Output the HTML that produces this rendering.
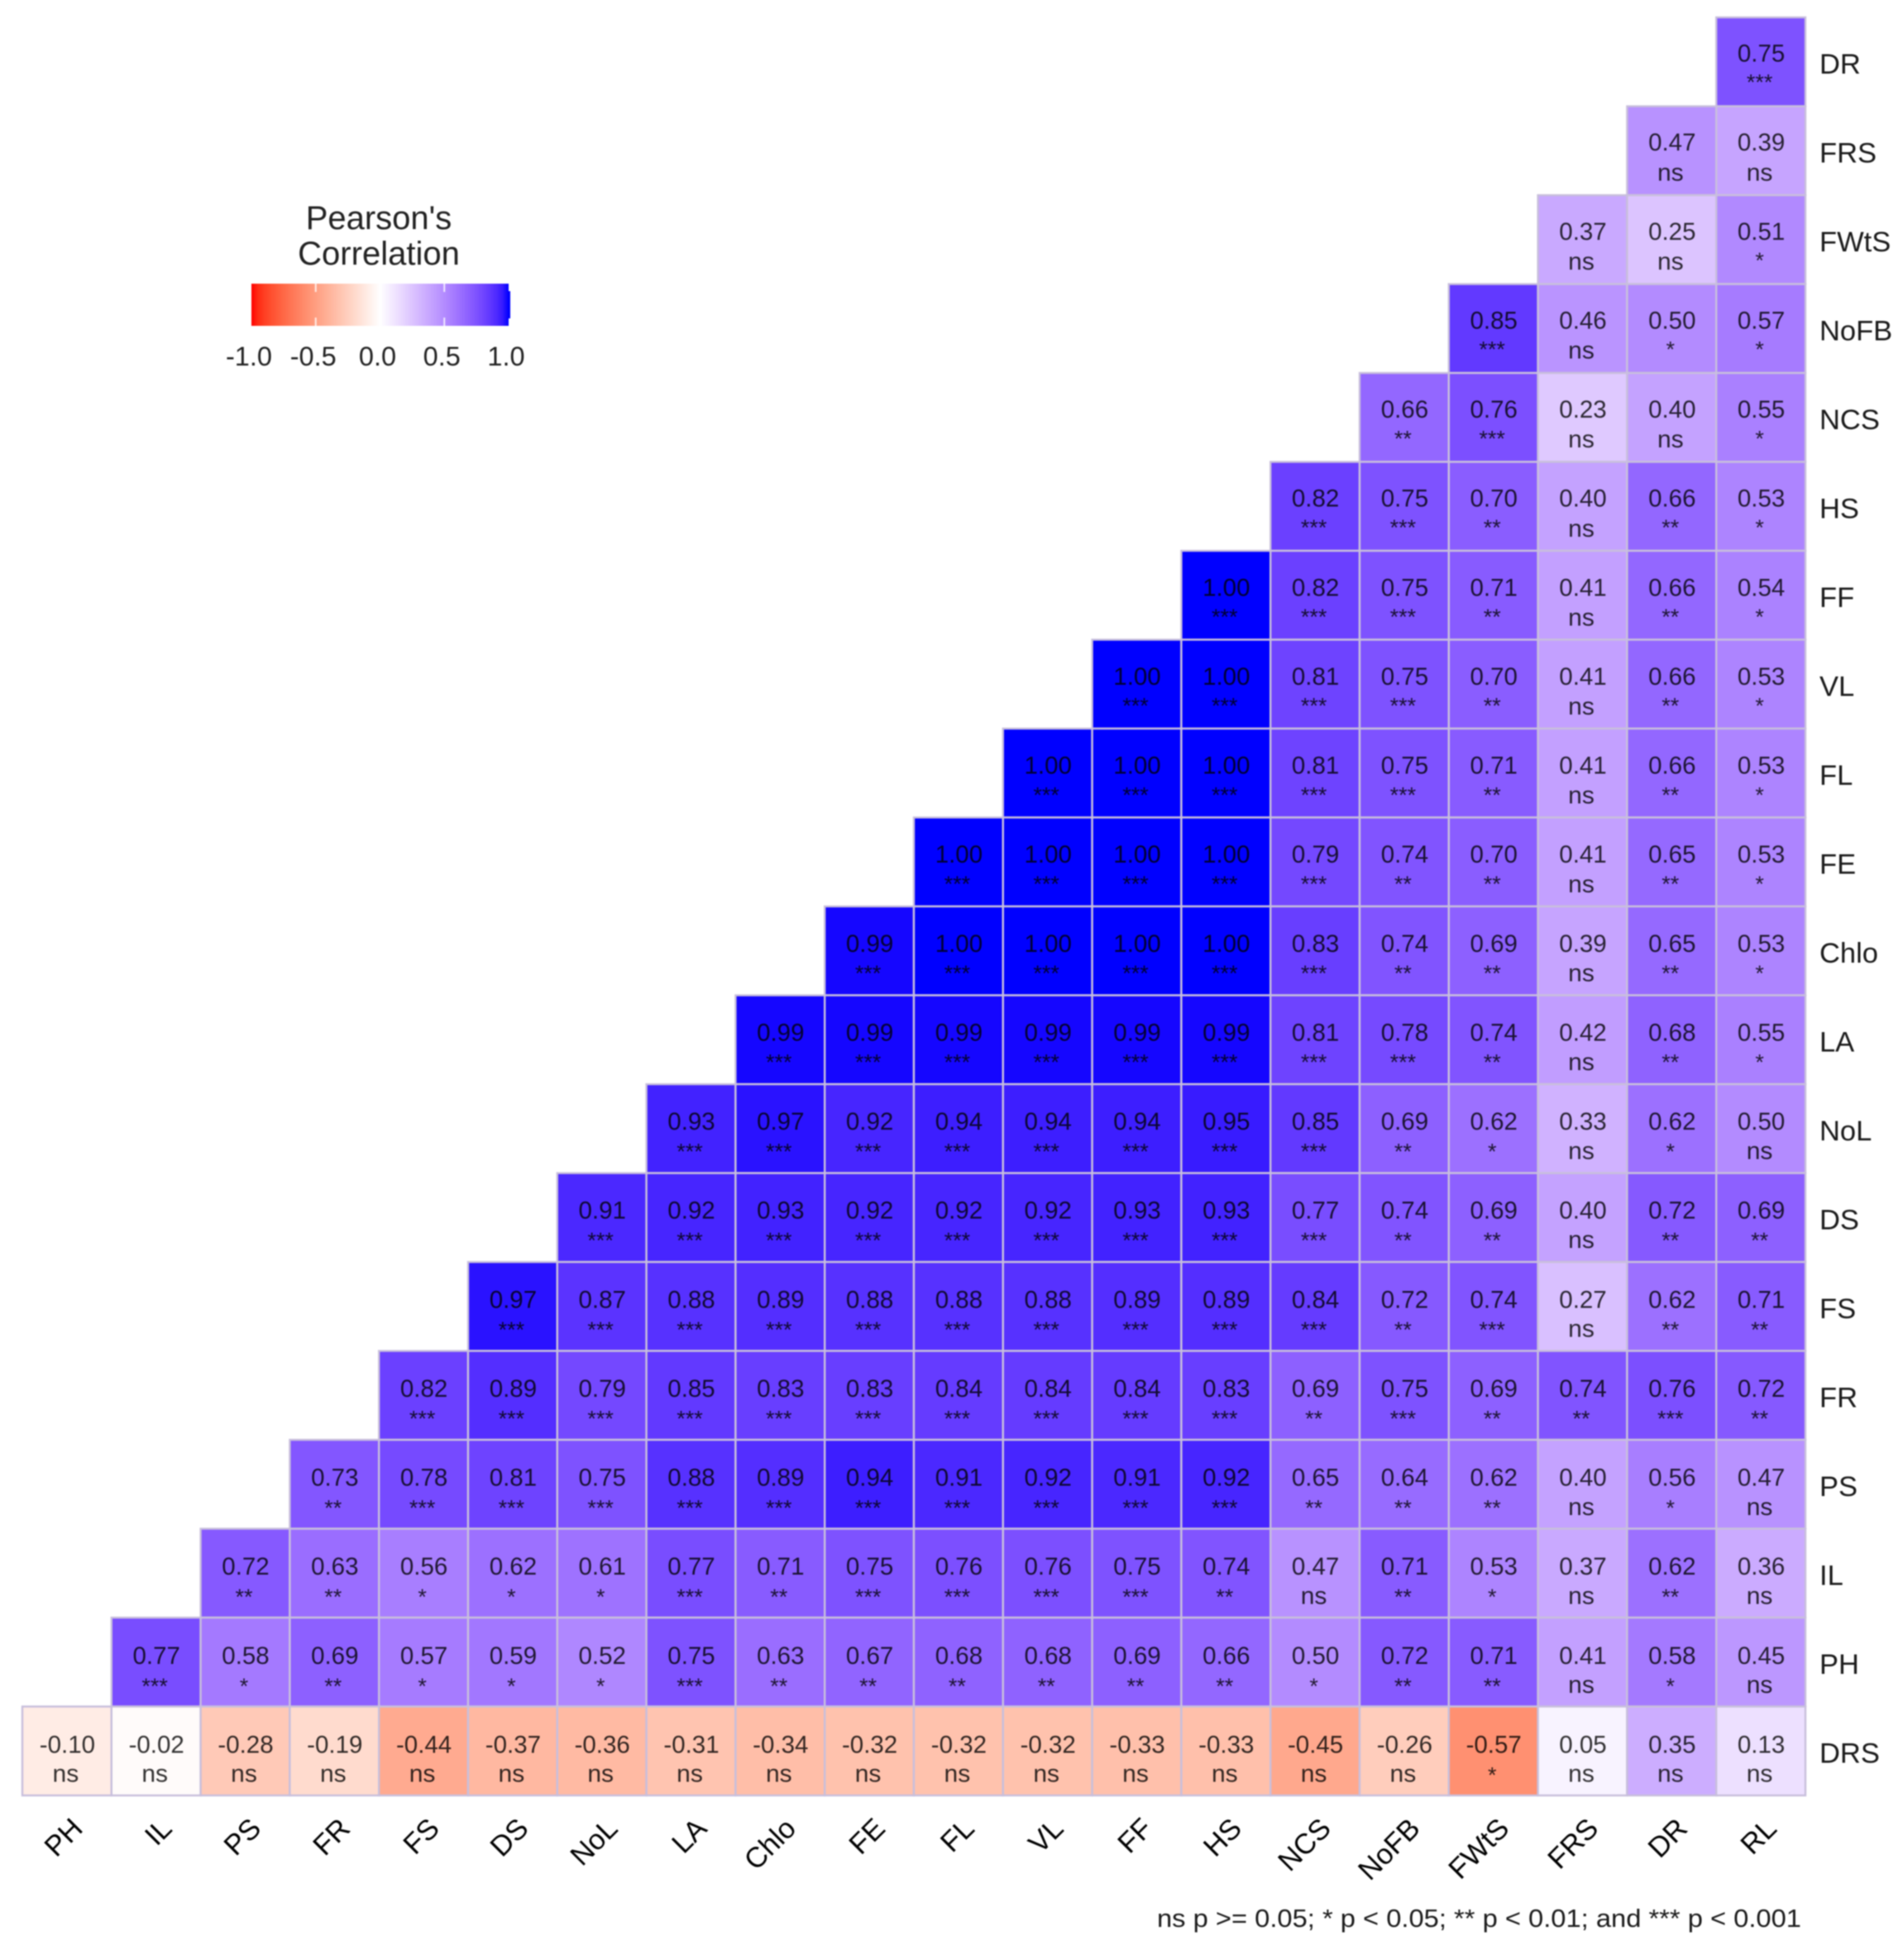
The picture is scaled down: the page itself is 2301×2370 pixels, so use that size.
<!DOCTYPE html>
<html>
<head>
<meta charset="utf-8">
<title>Pearson's Correlation Matrix</title>
<style>
html,body{margin:0;padding:0;background:#fff;width:2301px;height:2370px;overflow:hidden}
svg{display:block;filter:blur(0.8px)}
text{font-family:"Liberation Sans",sans-serif}
</style>
</head>
<body>
<svg id="chart" xmlns="http://www.w3.org/2000/svg" width="2301" height="2370" viewBox="0 0 2301 2370">
  <rect x="0" y="0" width="2301" height="2370" fill="#fff"/>
  <g id="cells"></g>
  <g id="ylabels"></g>
  <g id="xlabels"></g>
  <g>
    <text x="458" y="277" text-anchor="middle" font-size="40" fill="#222">Pearson's</text>
    <text x="458" y="320" text-anchor="middle" font-size="40" fill="#222">Correlation</text>
    <defs><linearGradient id="legendGrad" x1="0" x2="1" y1="0" y2="0"></linearGradient></defs>
    <rect x="612" y="352" width="5" height="33" fill="#0000ff"/>
    <rect id="legendBar" fill="url(#legendGrad)"/>
    <g id="legendTicks"></g>
  </g>
  <text x="1399" y="2330" font-size="31" fill="#1a1a1a" textLength="779" lengthAdjust="spacingAndGlyphs">ns p &gt;= 0.05; * p &lt; 0.05; ** p &lt; 0.01; and *** p &lt; 0.001</text>
</svg>
<script>
const columnLabels = ["PH","IL","PS","FR","FS","DS","NoL","LA","Chlo","FE","FL","VL","FF","HS","NCS","NoFB","FWtS","FRS","DR","RL"];
const rowLabels = ["DR","FRS","FWtS","NoFB","NCS","HS","FF","VL","FL","FE","Chlo","LA","NoL","DS","FS","FR","PS","IL","PH","DRS"];
const legendTickValues = [-1,-0.5,0,0.5,1];
const legendTickLabels = ["-1.0","-0.5","0.0","0.5","1.0"];

/* Each row is right-aligned against the RL column */
const correlationValues = [
  [0.75],
  [0.47,0.39],
  [0.37,0.25,0.51],
  [0.85,0.46,0.50,0.57],
  [0.66,0.76,0.23,0.40,0.55],
  [0.82,0.75,0.70,0.40,0.66,0.53],
  [1.00,0.82,0.75,0.71,0.41,0.66,0.54],
  [1.00,1.00,0.81,0.75,0.70,0.41,0.66,0.53],
  [1.00,1.00,1.00,0.81,0.75,0.71,0.41,0.66,0.53],
  [1.00,1.00,1.00,1.00,0.79,0.74,0.70,0.41,0.65,0.53],
  [0.99,1.00,1.00,1.00,1.00,0.83,0.74,0.69,0.39,0.65,0.53],
  [0.99,0.99,0.99,0.99,0.99,0.99,0.81,0.78,0.74,0.42,0.68,0.55],
  [0.93,0.97,0.92,0.94,0.94,0.94,0.95,0.85,0.69,0.62,0.33,0.62,0.50],
  [0.91,0.92,0.93,0.92,0.92,0.92,0.93,0.93,0.77,0.74,0.69,0.40,0.72,0.69],
  [0.97,0.87,0.88,0.89,0.88,0.88,0.88,0.89,0.89,0.84,0.72,0.74,0.27,0.62,0.71],
  [0.82,0.89,0.79,0.85,0.83,0.83,0.84,0.84,0.84,0.83,0.69,0.75,0.69,0.74,0.76,0.72],
  [0.73,0.78,0.81,0.75,0.88,0.89,0.94,0.91,0.92,0.91,0.92,0.65,0.64,0.62,0.40,0.56,0.47],
  [0.72,0.63,0.56,0.62,0.61,0.77,0.71,0.75,0.76,0.76,0.75,0.74,0.47,0.71,0.53,0.37,0.62,0.36],
  [0.77,0.58,0.69,0.57,0.59,0.52,0.75,0.63,0.67,0.68,0.68,0.69,0.66,0.50,0.72,0.71,0.41,0.58,0.45],
  [-0.10,-0.02,-0.28,-0.19,-0.44,-0.37,-0.36,-0.31,-0.34,-0.32,-0.32,-0.32,-0.33,-0.33,-0.45,-0.26,-0.57,0.05,0.35,0.13]
];
const significanceLabels = [
  ["***"],
  ["ns","ns"],
  ["ns","ns","*"],
  ["***","ns","*","*"],
  ["**","***","ns","ns","*"],
  ["***","***","**","ns","**","*"],
  ["***","***","***","**","ns","**","*"],
  ["***","***","***","***","**","ns","**","*"],
  ["***","***","***","***","***","**","ns","**","*"],
  ["***","***","***","***","***","**","**","ns","**","*"],
  ["***","***","***","***","***","***","**","**","ns","**","*"],
  ["***","***","***","***","***","***","***","***","**","ns","**","*"],
  ["***","***","***","***","***","***","***","***","**","*","ns","*","ns"],
  ["***","***","***","***","***","***","***","***","***","**","**","ns","**","**"],
  ["***","***","***","***","***","***","***","***","***","***","**","***","ns","**","**"],
  ["***","***","***","***","***","***","***","***","***","***","**","***","**","**","***","**"],
  ["**","***","***","***","***","***","***","***","***","***","***","**","**","**","ns","*","ns"],
  ["**","**","*","*","*","***","**","***","***","***","***","**","ns","**","*","ns","**","ns"],
  ["***","*","**","*","*","*","***","**","**","**","**","**","**","*","**","**","ns","*","ns"],
  ["ns","ns","ns","ns","ns","ns","ns","ns","ns","ns","ns","ns","ns","ns","ns","ns","*","ns","ns","ns"]
];

const SVG_NS = "http://www.w3.org/2000/svg";
const plotLeft = 27, plotTop = 21, cellW = 107.8, cellH = 107.5;
function xScale(col){ return plotLeft + col * cellW; }
function yScale(row){ return plotTop + row * cellH; }
function textDrift(row){ return 1 - row / 19; }
function legendX(v){ return 459.5 + v * 155.5; }

function labToRgb(L,a,b){
  const fy=(L+16)/116, fx=fy+a/500, fz=fy-b/200;
  const inv=t=>t>6/29?t*t*t:3*(6/29)*(6/29)*(t-4/29);
  const X=0.95047*inv(fx), Y=inv(fy), Z=1.08883*inv(fz);
  const lin=[3.2406*X-1.5372*Y-0.4986*Z,-0.9689*X+1.8758*Y+0.0415*Z,0.0557*X-0.2040*Y+1.0570*Z];
  const out=lin.map(c=>{c=Math.max(0,Math.min(1,c));return Math.round(255*(c<=0.0031308?12.92*c:1.055*Math.pow(c,1/2.4)-0.055));});
  return "rgb("+out.join(",")+")";
}
function colorScale(v){
  const end = v<0 ? [53.24,80.09,67.20] : [32.30,79.19,-107.86];
  const t = Math.min(1,Math.abs(v));
  return labToRgb(100+(end[0]-100)*t, end[1]*t, end[2]*t);
}
function mk(tag,attrs,parent,txt){
  const el=document.createElementNS(SVG_NS,tag);
  for(const k in attrs) el.setAttribute(k,attrs[k]);
  if(txt!==undefined) el.textContent=txt;
  parent.appendChild(el);
  return el;
}

const cellsG=document.getElementById("cells");
correlationValues.forEach((rowVals,r)=>{
  const offset=columnLabels.length-rowVals.length;
  rowVals.forEach((v,i)=>{
    const c=offset+i;
    const x=xScale(c), y=yScale(r);
    const rect=mk("rect",{x:x,y:y,width:cellW,height:cellH,fill:colorScale(v),stroke:"#c8bfdc","stroke-width":2.4},cellsG);
    
    
  });
});
correlationValues.forEach((rowVals,r)=>{
  const offset=columnLabels.length-rowVals.length;
  rowVals.forEach((v,i)=>{
    const c=offset+i;
    const cx=xScale(c)+cellW/2, y=yScale(r);
    const val=mk("text",{x:cx+0.5,y:y+56-2.5*textDrift(r),"text-anchor":"middle","font-size":29.5,fill:"#000","fill-opacity":0.8},cellsG,v.toFixed(2));
    
    
    const s=significanceLabels[r][i];
    const isNs=s==="ns";
    const sigY=isNs ? y+91-textDrift(r) : y+92-4.5*textDrift(r);
    const sig=mk("text",{x:cx-1.5,y:sigY,"text-anchor":"middle","font-size":isNs?30:27,fill:"#000","fill-opacity":0.8},cellsG,s);
    
    
  });
});

const yG=document.getElementById("ylabels");
rowLabels.forEach((lab,r)=>{
  const t=mk("text",{x:2200,y:yScale(r)+68,"font-size":34.5,fill:"#1a1a1a"},yG,lab);
  
  
});

const xG=document.getElementById("xlabels");
columnLabels.forEach((lab,c)=>{
  const ax=xScale(c)+cellW/2+21, ay=2213;
  const t=mk("text",{x:ax,y:ay,"text-anchor":"end","font-size":34.5,fill:"#000",transform:"rotate(-45 "+ax+" "+ay+")"},xG,lab);
  
  
});

const grad=document.getElementById("legendGrad");
for(let k=0;k<=40;k++){
  const v=-1+k/20;
  mk("stop",{offset:(k/40*100)+"%","stop-color":colorScale(v)},grad);
}
const bar=document.getElementById("legendBar");
bar.setAttribute("x",legendX(-1));
bar.setAttribute("y",343);
bar.setAttribute("width",legendX(1)-legendX(-1));
bar.setAttribute("height",51);
const ticksG=document.getElementById("legendTicks");
legendTickValues.forEach((v,i)=>{
  const x=legendX(v);
  if(Math.abs(v)<1 && v!==0){
    const t1=mk("line",{x1:x,x2:x,y1:343,y2:353,stroke:"#fff","stroke-width":2,"stroke-opacity":0.8},ticksG);
    
    
    const t2=mk("line",{x1:x,x2:x,y1:384,y2:394,stroke:"#fff","stroke-width":2,"stroke-opacity":0.8},ticksG);
    
    
  }
  const lab=mk("text",{x:x-3,y:442,"text-anchor":"middle","font-size":32.5,fill:"#222"},ticksG,legendTickLabels[i]);
  
  
});
</script>
</body>
</html>
